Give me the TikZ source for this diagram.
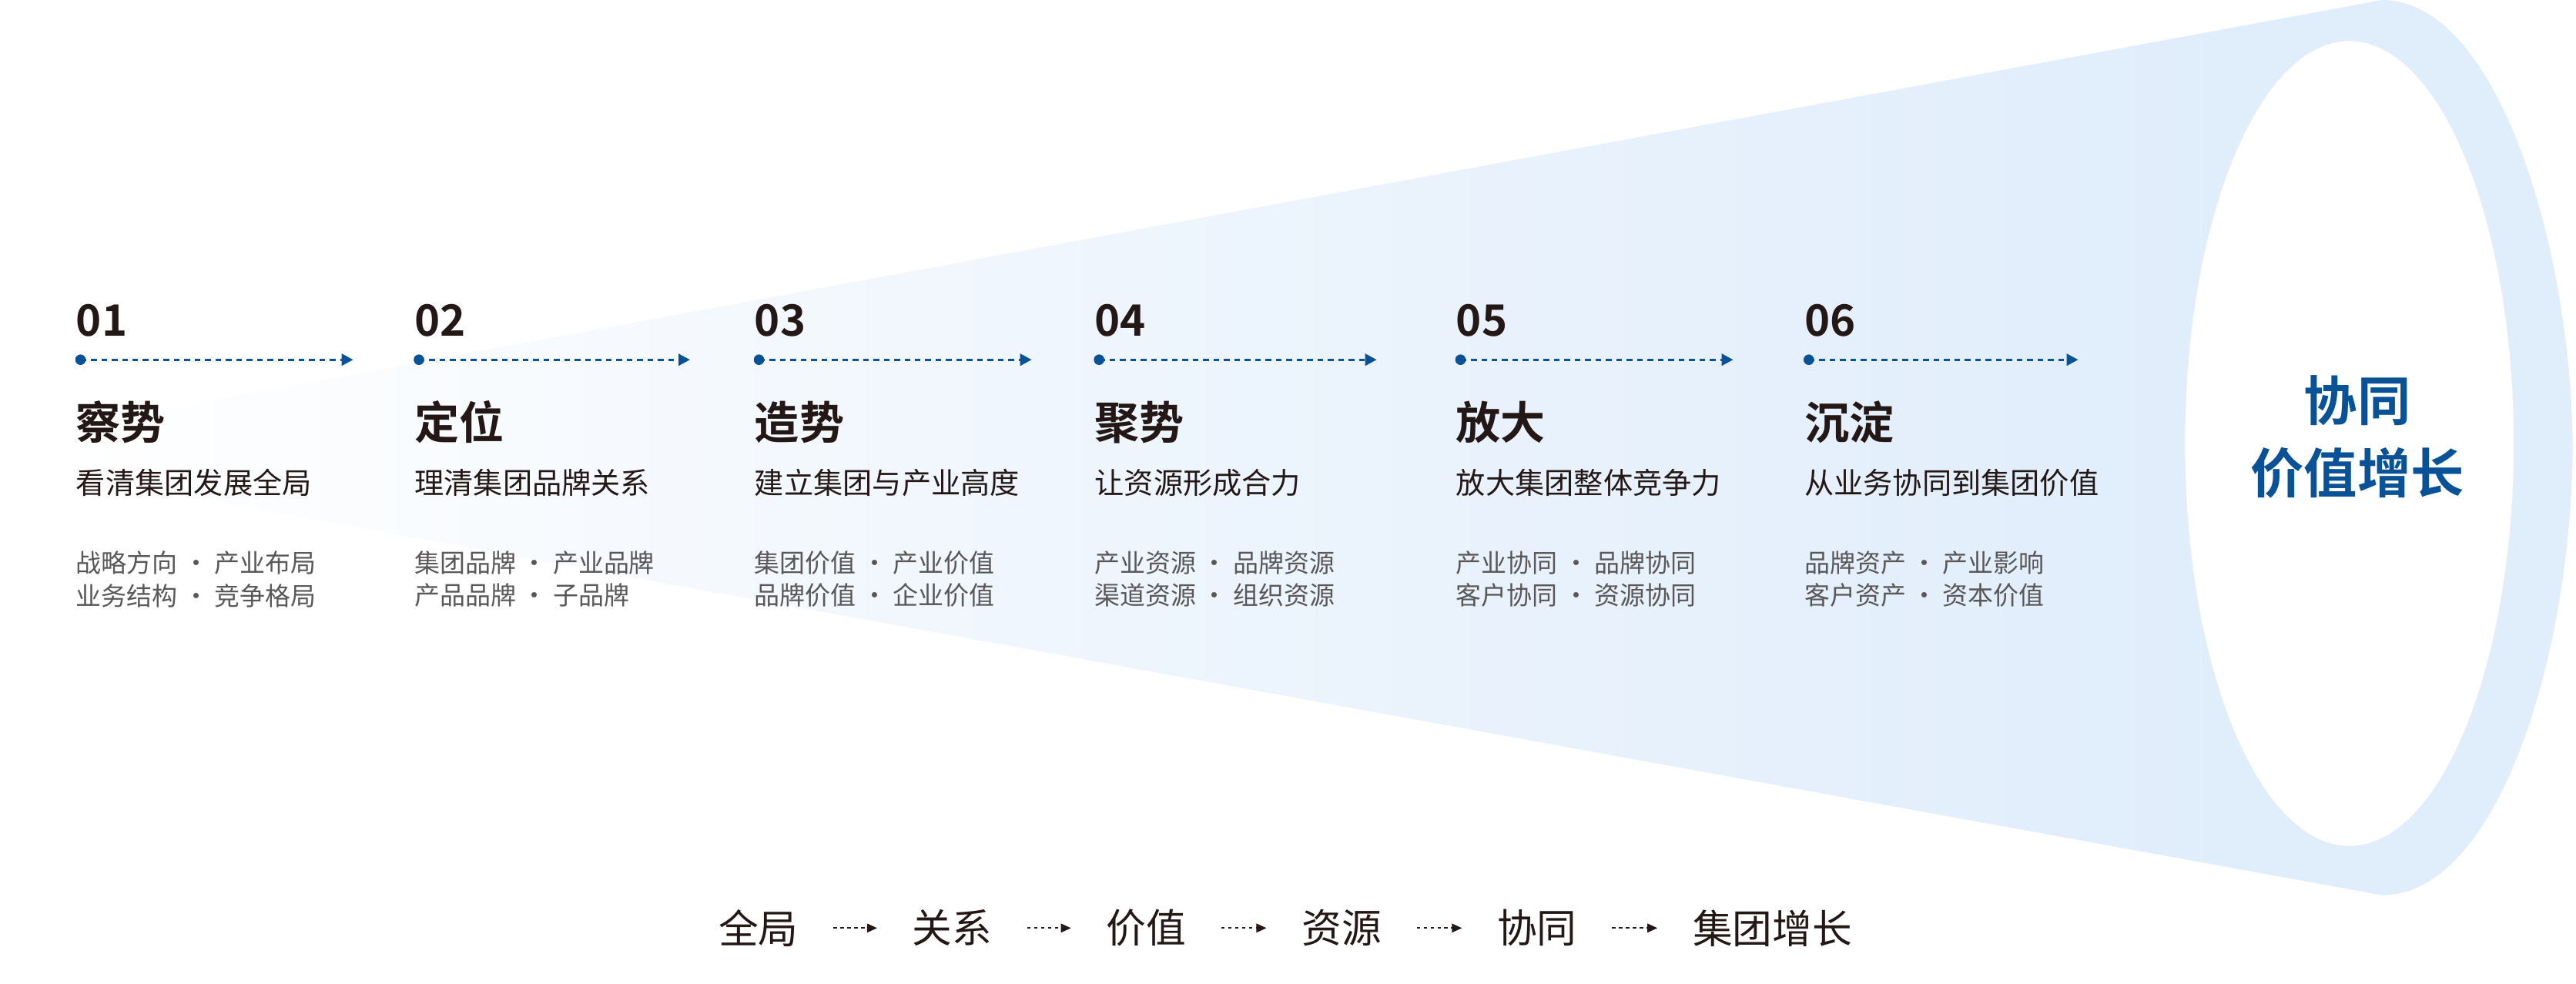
\documentclass[tikz,border=0pt]{standalone}
\usepackage{fontspec}
\setmainfont{Noto Sans CJK SC}
\newfontfamily\cjkb{Noto Sans CJK SC Bold}
\usetikzlibrary{arrows.meta}
\definecolor{ring}{HTML}{E0EDFB}
\definecolor{deep}{HTML}{0A5298}
\definecolor{txt}{HTML}{231815}
\definecolor{sub}{HTML}{595757}
\begin{document}
\begin{tikzpicture}[x=0.02cm,y=-0.02cm,
  num/.style={anchor=west,inner sep=0,font=\cjkb\fontsize{15}{15}\selectfont,text=txt},
  ttl/.style={anchor=west,inner sep=0,font=\cjkb\fontsize{15.5}{16}\selectfont,text=txt},
  subt/.style={anchor=west,inner sep=0,font=\fontsize{10.2}{11}\selectfont,text=txt},
  bul/.style={anchor=north west,inner sep=0,align=left,font=\fontsize{8.8}{11.4}\selectfont,text=sub},
  dline/.style={deep,line width=0.9pt,dash pattern=on 2pt off 1.6pt,-{Triangle[length=4pt,width=4pt]}},
  bot/.style={inner sep=0,font=\fontsize{13.8}{14}\selectfont,text=txt},
  barr/.style={txt,line width=0.6pt,dash pattern=on 1.2pt off 1.2pt,-{Triangle[length=3.5pt,width=3pt]}}]
\useasboundingbox (0,0) rectangle (1568,599);
% funnel body
\shade[left color=white,right color=ring,middle color=ring!55,shading angle=90] (30,262) -- (1340,20.3) -- (1340,525) -- (30,287) -- cycle;
% ring
\fill[ring] (1340,20.3) -- (1450,0) .. controls (1520,0) and (1565,150) .. (1566,272)
  .. controls (1565,400) and (1520,545) .. (1450,545) -- (1340,525) -- cycle;
\fill[white] (1430,270) ellipse [x radius=100,y radius=245];
\node[inner sep=0,align=center,font=\cjkb\fontsize{18.5}{25}\selectfont,text=deep] (goal) at (1435,266) {协同\\价值增长};
% steps
\foreach \i/\x/\e/\n/\t/\s/\a/\b in {
 1/46/215/01/察势/看清集团发展全局/战略方向 · 产业布局/业务结构 · 竞争格局,
 2/252/420/02/定位/理清集团品牌关系/集团品牌 · 产业品牌/产品品牌 · 子品牌,
 3/459/628/03/造势/建立集团与产业高度/集团价值 · 产业价值/品牌价值 · 企业价值,
 4/666/838/04/聚势/让资源形成合力/产业资源 · 品牌资源/渠道资源 · 组织资源,
 5/886/1055/05/放大/放大集团整体竞争力/产业协同 · 品牌协同/客户协同 · 资源协同,
 6/1098/1265/06/沉淀/从业务协同到集团价值/品牌资产 · 产业影响/客户资产 · 资本价值}{
  \node[num] (n\i) at (\x,195) {\n};
  \fill[deep] (\x+3,219) circle (3.2);
  \coordinate (s\i) at (\x+3,219);
  \coordinate (e\i) at (\e,219);
  \draw[dline] (s\i) -- (e\i);
  \node[ttl] (t\i) at (\x,257) {\t};
  \node[subt] (u\i) at (\x,294) {\s};
  \node[bul] (b\i) at (\x,335) {\a\\\b};
}
% bottom flow
\node[bot,anchor=west] (f1) at (437,565) {全局};
\node[bot,anchor=west] (f2) at (555,565) {关系};
\node[bot,anchor=west] (f3) at (673,565) {价值};
\node[bot,anchor=west] (f4) at (792,565) {资源};
\node[bot,anchor=west] (f5) at (911,565) {协同};
\node[bot,anchor=west] (f6) at (1030,565) {集团增长};
\foreach \p/\q in {f1/f2,f2/f3,f3/f4,f4/f5,f5/f6}
  \draw[barr] ([xshift=12]\p.east) -- ([xshift=-12]\q.west);
\end{tikzpicture}
\end{document}
